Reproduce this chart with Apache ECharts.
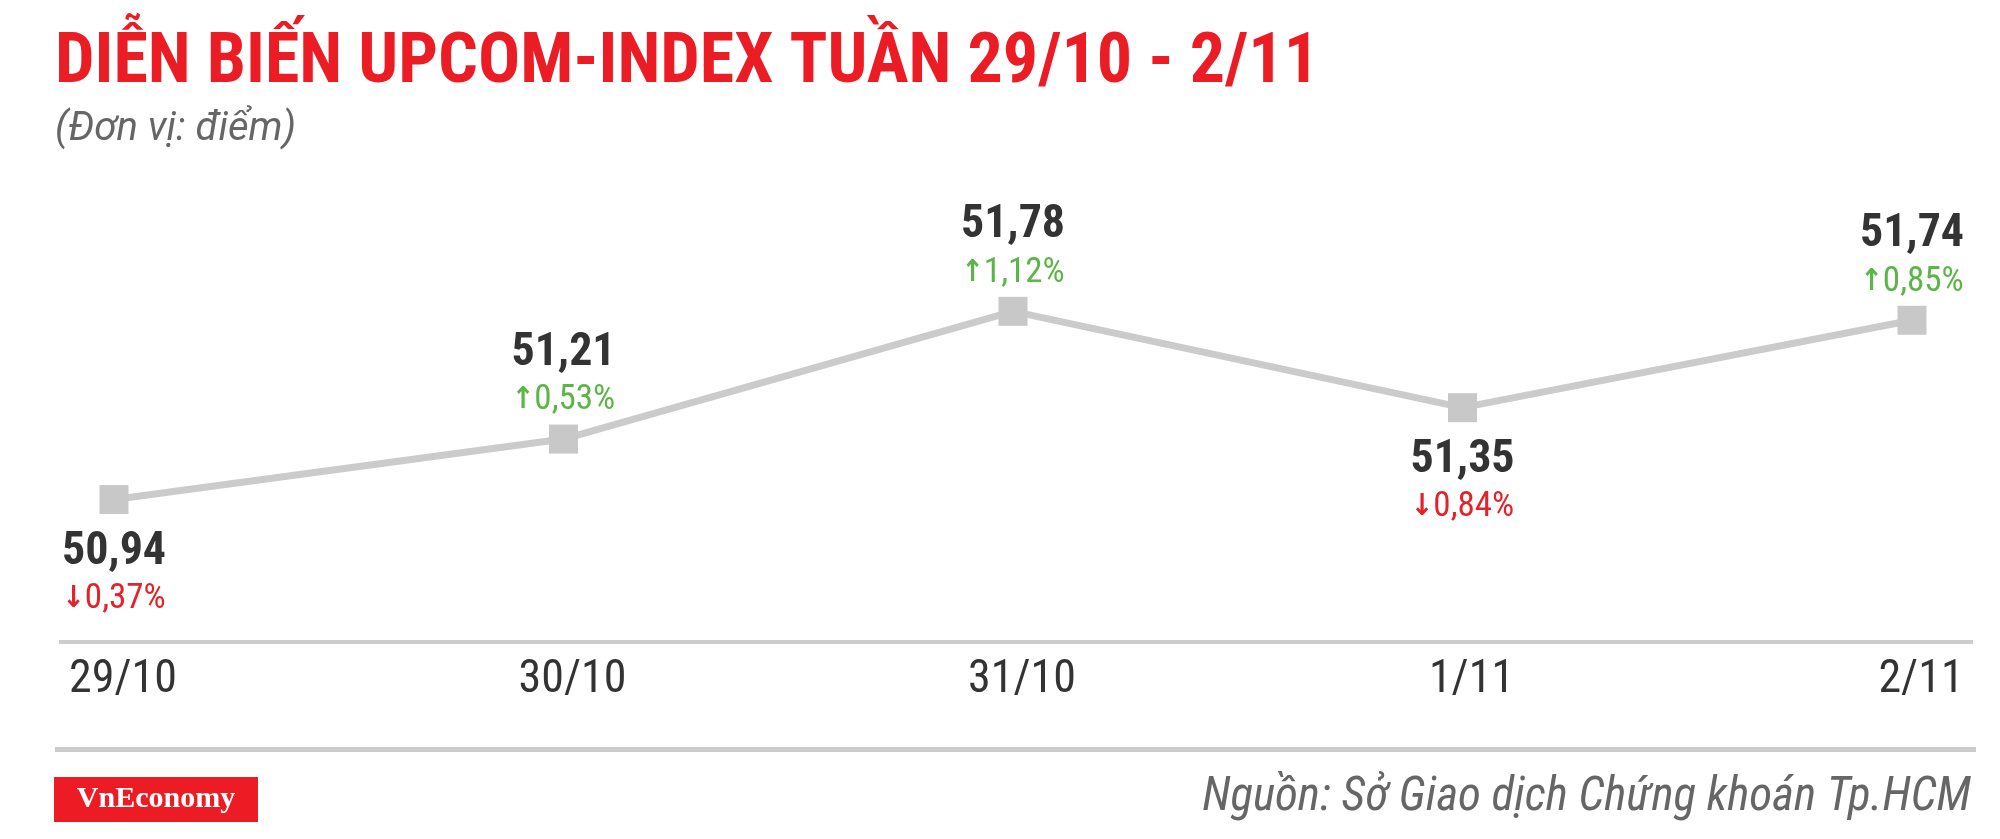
<!DOCTYPE html>
<html><head><meta charset="utf-8">
<script src="https://cdn.jsdelivr.net/npm/echarts@6/dist/echarts.min.js"></script>
<style>html,body{margin:0;padding:0;background:#fff}#c{width:2000px;height:839px}</style>
</head><body><div id="c"></div>
<script>
const categories = ['29/10', '30/10', '31/10', '1/11', '2/11'];
const values = [50.94, 51.21, 51.78, 51.35, 51.74];
const changes = [-0.37, 0.53, 1.12, -0.84, 0.85];
const titleText = 'DIỄN BIẾN UPCOM-INDEX TUẦN 29/10 - 2/11';
const unitText = '(Đơn vị: điểm)';
const sourceText = 'Nguồn: Sở Giao dịch Chứng khoán Tp.HCM';
const brandText = 'VnEconomy';

const FONT = "'Roboto Condensed', Roboto, sans-serif";
const fmt = v => v.toFixed(2).replace('.', ',');

const seriesData = values.map((v, i) => {
  const prev = i > 0 ? values[i - 1] : Infinity;
  const next = i < values.length - 1 ? values[i + 1] : Infinity;
  const below = v < prev && v < next;
  return { value: v, label: { position: below ? 'bottom' : 'top', distance: below ? 13 : 2 } };
});

const chart = echarts.init(document.getElementById('c'), null, { renderer: 'canvas' });
chart.setOption({
  animation: false,
  backgroundColor: '#fff',
  title: [
    { text: titleText, left: 55, top: 29, padding: 0,
      textStyle: { fontSize: 70, fontWeight: 'bold', color: '#ec1c24', fontFamily: FONT } },
    { text: unitText, left: 55, top: 110, padding: 0,
      textStyle: { fontSize: 40, fontStyle: 'italic', fontWeight: 'normal', color: '#666', fontFamily: 'Roboto, sans-serif' } },
    { text: sourceText, right: 29, top: 775, padding: 0,
      textStyle: { fontSize: 47, fontStyle: 'italic', fontWeight: 'normal', color: '#666', fontFamily: FONT } }
  ],
  graphic: [
    { type: 'line', shape: { x1: 59, y1: 642, x2: 1973, y2: 642 }, style: { stroke: '#cccccc', lineWidth: 4 } },
    { type: 'line', shape: { x1: 55, y1: 749.5, x2: 1976, y2: 749.5 }, style: { stroke: '#cccccc', lineWidth: 5 } },
    { type: 'rect', shape: { x: 54, y: 777, width: 204, height: 45 }, style: { fill: '#ed1c24' } },
    { type: 'text', x: 156, y: 799.5,
      style: { text: brandText, fill: '#fff', fontFamily: '"Liberation Serif", "Times New Roman", serif',
               fontSize: 30, fontWeight: 'bold', align: 'center', verticalAlign: 'middle' } }
  ],
  grid: { left: 114, right: 88, top: 262, bottom: 196, containLabel: false, outerBoundsMode: 'none' },
  xAxis: {
    type: 'category', data: categories, boundaryGap: false,
    axisLine: { show: false }, axisTick: { show: false }, splitLine: { show: false },
    axisLabel: { interval: 0, fontSize: 46, color: '#333', margin: 14, fontFamily: FONT, padding: [0, 0, 0, 18] }
  },
  yAxis: { type: 'value', min: 50.3, max: 52, show: false },
  series: [{
    type: 'line',
    data: seriesData,
    symbol: 'rect',
    symbolSize: 29,
    itemStyle: { color: '#c8c8c8' },
    lineStyle: { color: '#cbcbcb', width: 7 },
    emphasis: { disabled: true },
    label: {
      show: true,
      align: 'center',
      formatter: p => {
        const c = changes[p.dataIndex];
        const key = c < 0 ? 'dn' : 'up';
        const arrow = c < 0 ? '↓' : '↑';
        return '{v|' + fmt(p.value) + '}\n{' + key + 'a|' + arrow + '}{' + key + '|' + fmt(Math.abs(c)) + '%}';
      },
      rich: {
        v: { fontSize: 46, fontWeight: 'bold', color: '#333', fontFamily: FONT, lineHeight: 50 },
        up: { fontSize: 35, color: '#5cb547', fontFamily: FONT, lineHeight: 44 },
        dn: { fontSize: 35, color: '#e52229', fontFamily: FONT, lineHeight: 44 },
        upa: { fontSize: 30, fontWeight: 'bold', color: '#5cb547', fontFamily: "'DejaVu Sans Condensed', 'DejaVu Sans', sans-serif", lineHeight: 44 },
        dna: { fontSize: 30, fontWeight: 'bold', color: '#e52229', fontFamily: "'DejaVu Sans Condensed', 'DejaVu Sans', sans-serif", lineHeight: 44 }
      }
    }
  }]
});
</script>
</body></html>
